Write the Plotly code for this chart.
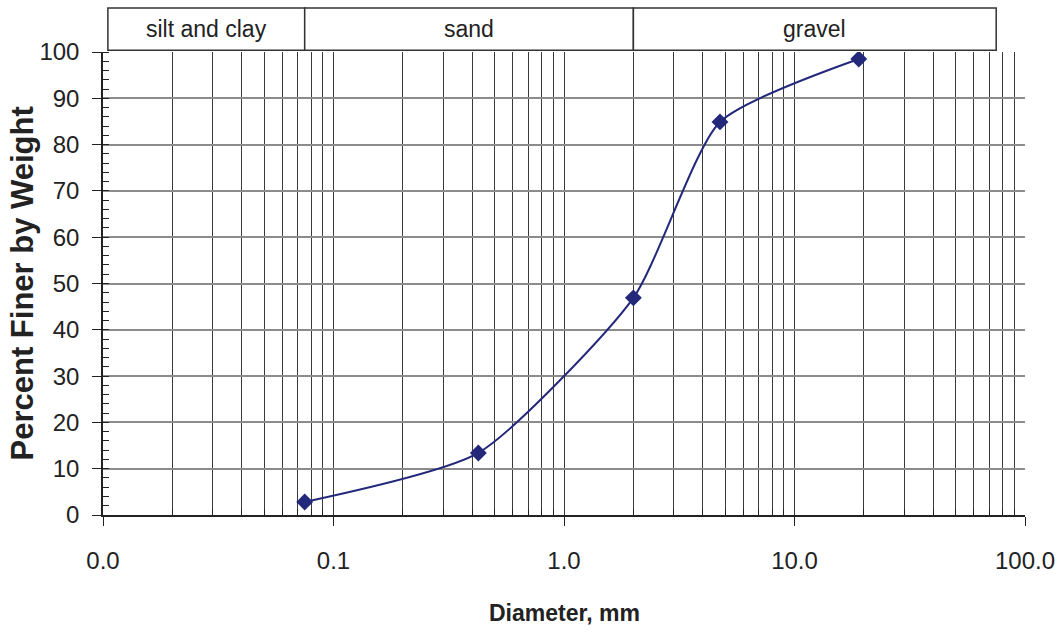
import numpy as np
import plotly.graph_objects as go

# Sieve analysis results
diameter_mm = [0.075, 0.425, 2.0, 4.75, 19.0]
percent_finer = [2.8, 13.4, 46.9, 84.9, 98.5]

# Soil classification bands (lower / upper diameter, mm)
band_names = ["silt and clay", "sand", "gravel"]
band_lo = [0.0105, 0.075, 2.0]
band_hi = [0.075, 2.0, 75.0]

x_tick_vals = [0.01, 0.1, 1, 10, 100]
x_tick_text = ["0.0", "0.1", "1.0", "10.0", "100.0"]
y_tick_vals = list(range(0, 101, 10))

minor_x = [m * 10.0 ** e for e in range(-2, 2) for m in range(2, 10)]

X_MIN, X_MAX = 0.01, 100.0
NAVY = "#23287a"
TEXT = "#222222"
TICK_FONT = dict(family="Liberation Sans, Arial", size=24, color=TEXT)


def to_paper(d):
    """Position of a diameter as a fraction of the log x-axis width."""
    return (np.log10(d) - np.log10(X_MIN)) / (np.log10(X_MAX) - np.log10(X_MIN))


fig = go.Figure()
fig.add_trace(go.Scatter(
    x=diameter_mm, y=percent_finer,
    mode="lines+markers",
    line=dict(color=NAVY, width=2, shape="spline", smoothing=0.6),
    marker=dict(symbol="diamond", size=13, color=NAVY),
    showlegend=False,
))

# Header boxes with the soil class names
for name, lo, hi in zip(band_names, band_lo, band_hi):
    x0, x1 = to_paper(lo), to_paper(hi)
    fig.add_shape(type="rect", xref="paper", yref="paper",
                  x0=x0, x1=x1, y0=1.004, y1=1.095,
                  line=dict(color="#333333", width=1.5), fillcolor="white", layer="above")
    fig.add_annotation(x=(x0 + x1) / 2, y=1.0495, xref="paper", yref="paper",
                       text=name, showarrow=False, xanchor="center", yanchor="middle",
                       font=dict(family="Liberation Sans, Arial", size=23, color=TEXT))

# Axis titles
fig.add_annotation(x=0.5, y=-0.2117, xref="paper", yref="paper",
                   text="Diameter, mm", showarrow=False, xanchor="center", yanchor="middle",
                   font=dict(family="Liberation Sans, Arial", size=23, color=TEXT, weight="bold"))
fig.add_annotation(x=-0.0868, y=0.5, xref="paper", yref="paper", textangle=-90,
                   text="Percent Finer by Weight", showarrow=False, xanchor="center", yanchor="middle",
                   font=dict(family="Liberation Sans, Arial", size=31, color=TEXT, weight="bold"))

fig.update_xaxes(
    type="log", range=[np.log10(X_MIN), np.log10(X_MAX)],
    tickvals=x_tick_vals, ticktext=x_tick_text,
    ticks="outside", ticklen=9, tickcolor=TEXT, tickwidth=1,
    ticklabelstandoff=14,
    showgrid=True, gridcolor="#3a3a3a", gridwidth=1,
    showline=True, linecolor=TEXT, linewidth=1.5,
    minor=dict(tickvals=minor_x, ticks="inside", ticklen=6, tickcolor=TEXT,
               showgrid=True, gridcolor="#3a3a3a", gridwidth=1),
    tickfont=TICK_FONT,
    automargin=False,
    zeroline=False,
)
fig.update_yaxes(
    range=[0, 100], tickvals=y_tick_vals,
    ticks="outside", ticklen=9, tickcolor=TEXT, tickwidth=1,
    ticklabelstandoff=8,
    showgrid=True, gridcolor="#8c8c8c", gridwidth=1.5,
    showline=True, linecolor=TEXT, linewidth=1.5,
    minor=dict(dtick=2, ticks="inside", ticklen=6, tickcolor=TEXT, showgrid=False),
    tickfont=TICK_FONT,
    automargin=False,
    zeroline=False,
)

fig.update_layout(
    width=1062, height=633,
    margin=dict(l=103, r=37, t=52, b=118),
    plot_bgcolor="white", paper_bgcolor="white",
)

fig.write_html("out.html")
